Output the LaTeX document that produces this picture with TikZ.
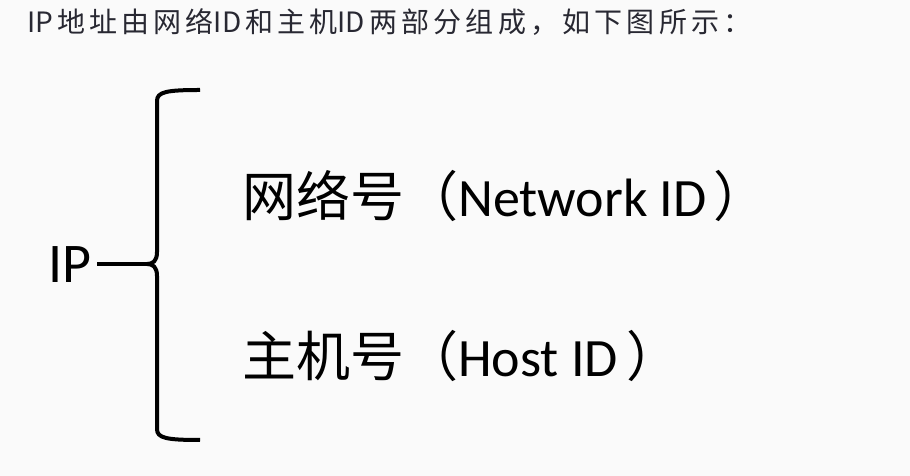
\documentclass[tikz,border=0pt]{standalone}
\usepackage{fontspec}
\setmainfont{Carlito}
\newfontfamily\cjk{Noto Sans CJK SC}
\newfontfamily\cjkspaced[LetterSpace=15]{Noto Sans CJK SC}
\definecolor{bgc}{RGB}{250,250,250}
\definecolor{toptxt}{RGB}{40,40,50}
\newcommand{\lat}[1]{{\cjk #1}\hspace{4pt}}
\begin{document}
\begin{tikzpicture}[x=1pt,y=1pt,
  lbl/.style={anchor=base west,inner sep=0pt,font=\fontsize{54}{60}\selectfont},
  bracepath/.style={line width=4pt,line cap=butt,line join=round}]
\fill[bgc] (0,0) rectangle (910,476);
\useasboundingbox (0,0) rectangle (910,476);
\node[anchor=base west,inner sep=0pt,text=toptxt,font=\cjkspaced\fontsize{28}{32}\selectfont] (title) at (27,443) {\lat{IP}地址由网络\lat{ID}和主机\lat{ID}两部分组成，如下图所示：};
\node[lbl,font=\fontsize{56}{60}\selectfont] (ip) at (48,193) {IP};
\node[lbl] (net) at (242,259) {{\cjk 网络号（}Network ID\hspace{7pt}{\cjk ）}};
\node[lbl] (host) at (242,99) {{\cjk 主机号（}Host ID\hspace{9pt}{\cjk ）}};
\coordinate (tip) at (147,212);
\coordinate (top) at (200,386);
\coordinate (bot) at (200,36);
\draw[bracepath] (ip.east |- tip) ++(6,0) -- (tip);
\draw[bracepath] (top) .. controls (166,386) and (157,384) .. (157,375) -- (157,224)
  .. controls (157,215) and (153,212) .. (tip)
  .. controls (153,212) and (157,209) .. (157,200) -- (157,47)
  .. controls (157,38) and (166,36) .. (bot);
\end{tikzpicture}
\end{document}
